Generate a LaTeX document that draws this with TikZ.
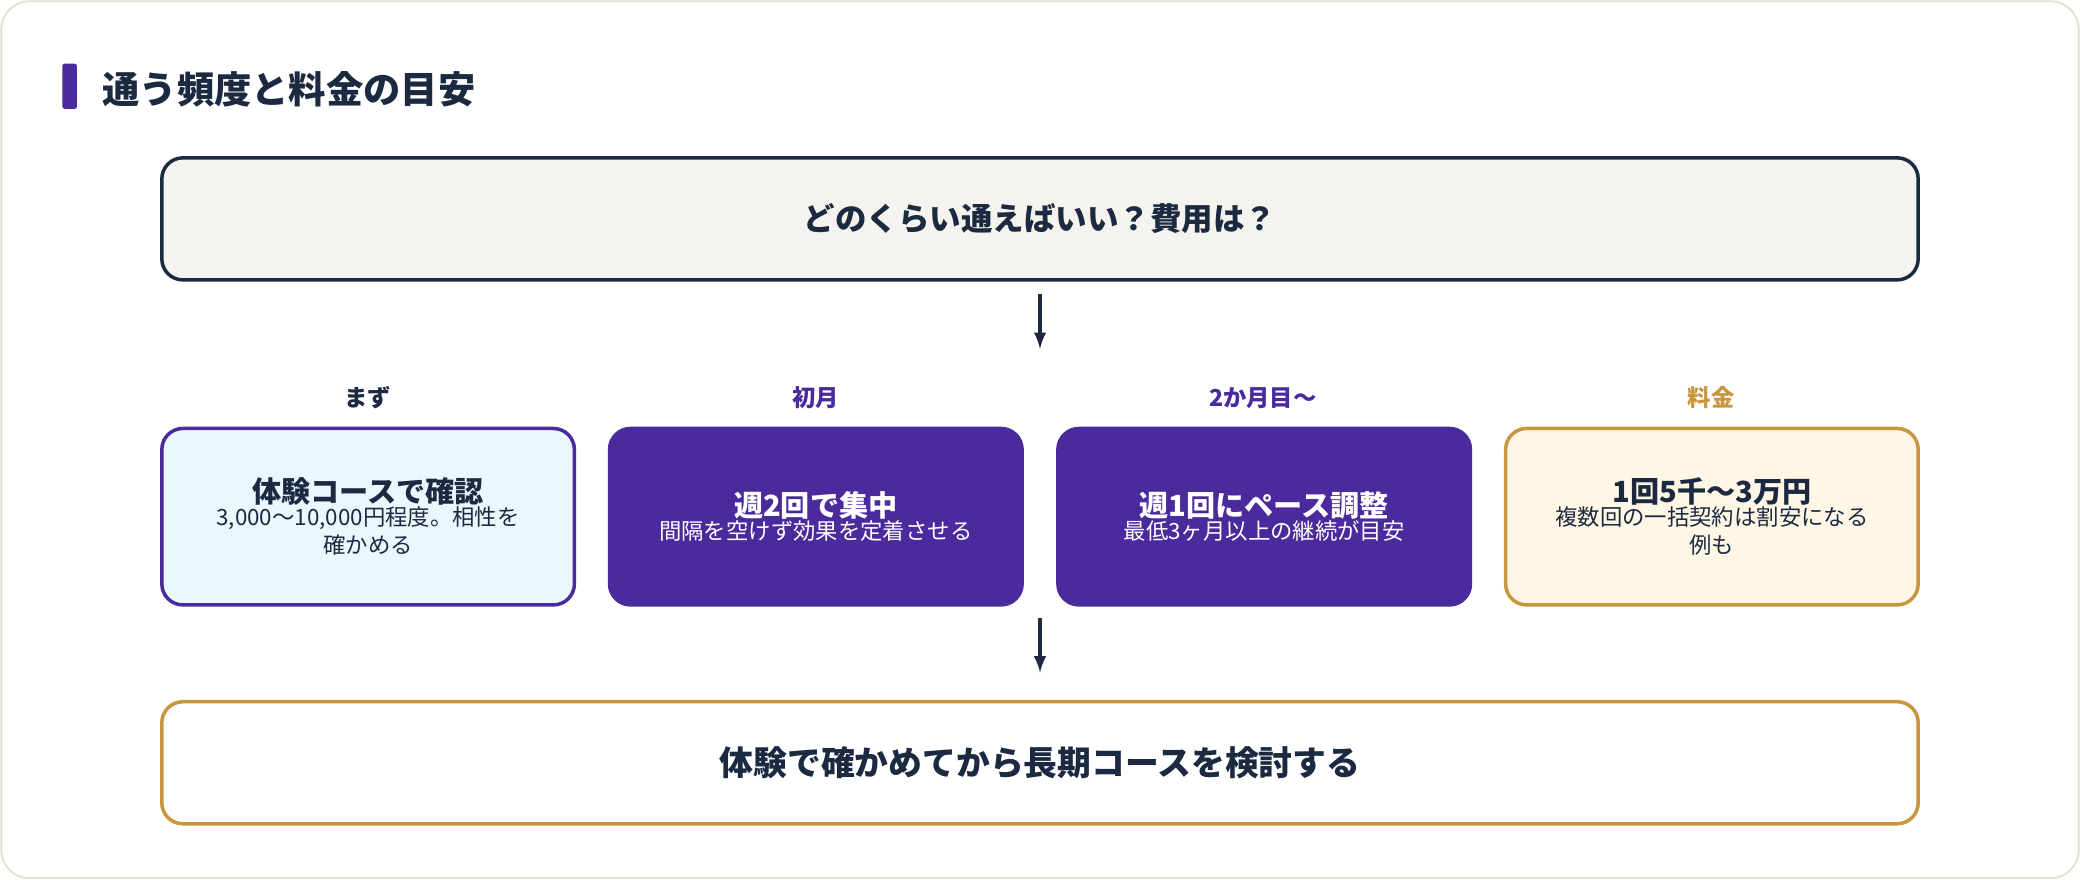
\documentclass[tikz,border=0pt]{standalone}
\usepackage{fontspec}
\setmainfont{Noto Sans CJK JP}
\usetikzlibrary{arrows,positioning}
\definecolor{navy}{HTML}{1B2A41}
\definecolor{violet}{HTML}{4A2A9C}
\definecolor{gold}{HTML}{C8963E}
\definecolor{paper}{HTML}{F5F3EE}
\definecolor{ice}{HTML}{EAF7FC}
\definecolor{cream}{HTML}{FFF6E5}
\definecolor{rim}{HTML}{E4E0CF}
\tikzset{
  wide/.style={draw=navy, line width=1.5pt, rounded corners=9pt, minimum width=26.48cm, minimum height=1.84cm, font=\bfseries\fontsize{13.5}{16}\selectfont, text=navy},
  card/.style={line width=1.5pt, rounded corners=9pt, minimum width=6.22cm, minimum height=2.66cm, align=center, text=navy},
  tag/.style={font=\bfseries\fontsize{10}{12}\selectfont},
  flow/.style={->, >=latex, line width=1.4pt, draw=navy}
}
\newcommand\cardhead[1]{{\bfseries\fontsize{12.5}{15}\selectfont #1}}
\newcommand\cardsub[1]{{\fontsize{9.6}{16}\selectfont #1}}
\begin{document}
\begin{tikzpicture}
\useasboundingbox (0,0) rectangle (31.36,-13.26);
\draw[rim, line width=0.8pt, fill=white, rounded corners=12pt] (0.02,-0.02) rectangle (31.34,-13.24);
% title
\fill[violet, rounded corners=1pt] (0.94,-0.96) rectangle (1.16,-1.64);
\node[anchor=west, text=navy, font=\bfseries\fontsize{16}{19}\selectfont] (title) at (1.42,-1.34) {通う頻度と料金の目安};

\node[wide, fill=paper] (ask) at (15.68,-3.30) {どのくらい通えばいい？費用は？};

% four steps
\node[tag, text=navy] (t1) at (5.54,-6.00) {まず};
\node[tag, text=violet] (t2) at (12.30,-6.00) {初月};
\node[tag, text=violet] (t3) at (19.04,-6.00) {2か月目〜};
\node[tag, text=gold] (t4) at (25.80,-6.00) {料金};

\node[card, draw=violet, fill=ice] (s1) at (5.55,-7.79) {\cardhead{体験コースで確認}\\[-2pt]\cardsub{3,000〜10,000円程度。相性を}\\\cardsub{確かめる}};
\node[card, draw=violet, fill=violet, text=white] (s2) at (12.30,-7.79) {\cardhead{週2回で集中}\\[-2pt]\cardsub{間隔を空けず効果を定着させる}};
\node[card, draw=violet, fill=violet, text=white] (s3) at (19.06,-7.79) {\cardhead{週1回にペース調整}\\[-2pt]\cardsub{最低3ヶ月以上の継続が目安}};
\node[card, draw=gold, fill=cream] (s4) at (25.81,-7.79) {\cardhead{1回5千〜3万円}\\[-2pt]\cardsub{複数回の一括契約は割安になる}\\\cardsub{例も}};

\node[wide, draw=gold, fill=white, font=\bfseries\fontsize{14.5}{17}\selectfont] (goal) at (15.68,-11.50) {体験で確かめてから長期コースを検討する};

\coordinate (a1) at (15.68,-4.44);
\coordinate (a2) at (15.68,-5.26);
\coordinate (b1) at (15.68,-9.32);
\coordinate (b2) at (15.68,-10.14);
\draw[flow] (a1) -- (a2);
\draw[flow] (b1) -- (b2);
\end{tikzpicture}
\end{document}
